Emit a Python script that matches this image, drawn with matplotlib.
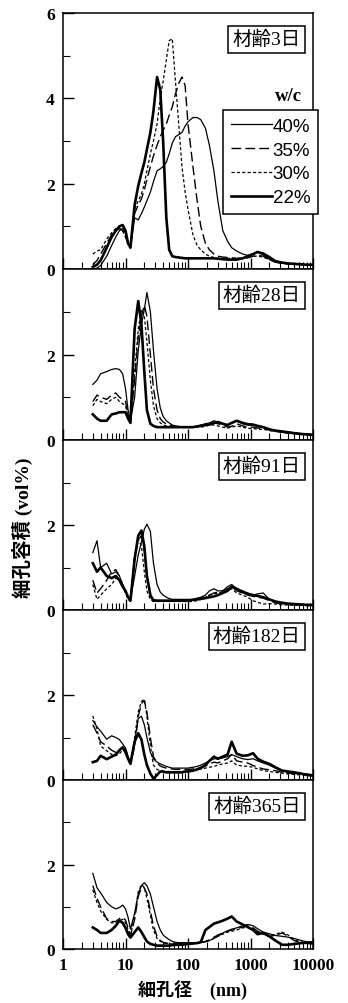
import numpy as np
import matplotlib
matplotlib.use('Agg')
import matplotlib.pyplot as plt
from matplotlib.ticker import LogLocator, FixedLocator, NullFormatter

plt.rcParams['font.family'] = ['Liberation Serif', 'Noto Sans CJK JP']

# pore diameter (nm) shared by every curve
diam = [3, 3.5, 4, 5, 6, 7, 8, 9, 10, 11,
        12, 14, 16, 18, 20, 22, 25, 28, 32, 36,
        40, 45, 50, 56, 63, 71, 80, 90, 100, 120,
        140, 160, 190, 220, 260, 300, 360, 430, 500, 600,
        750, 900, 1100, 1300, 1600, 2000, 2500, 3200, 4000, 5000,
        6500, 8000, 10000]

ages = ['材齢3日', '材齢28日', '材齢91日', '材齢182日', '材齢365日']
wc_labels = ['40%', '35%', '30%', '22%']
x_ticks = [1, 10, 100, 1000, 10000]
x_ticklabels = ['1', '10', '100', '1000', '10000']

# pore volume (vol%), age 3 days
vol_3d_40 = [0.0, 0.02, 0.08, 0.3, 0.55, 0.75, 0.9, 0.95, 0.85, 0.6,
             0.5, 1.2, 1.15, 1.3, 1.45, 1.6, 1.8, 2.05, 2.3, 2.35,
             2.4, 2.5, 2.7, 2.95, 3.1, 3.15, 3.2, 3.35, 3.45, 3.55,
             3.55, 3.5, 3.3, 2.9, 2.3, 1.6, 0.9, 0.65, 0.5, 0.42,
             0.35, 0.32, 0.35, 0.4, 0.38, 0.3, 0.2, 0.15, 0.13, 0.12,
             0.11, 0.1, 0.1]
vol_3d_35 = [0.1, 0.2, 0.35, 0.6, 0.8, 0.9, 0.95, 0.9, 0.75, 0.6,
             0.55, 1.3, 1.5, 1.65, 1.85, 2.1, 2.4, 2.65, 2.9, 3.1,
             3.25, 3.4, 3.6, 3.8, 4.1, 4.35, 4.5, 4.3, 3.4, 2.4,
             1.6, 1.0, 0.6, 0.45, 0.35, 0.3, 0.28, 0.27, 0.26, 0.25,
             0.25, 0.26, 0.3, 0.32, 0.3, 0.22, 0.16, 0.13, 0.12, 0.11,
             0.1, 0.1, 0.1]
vol_3d_30 = [0.35, 0.42, 0.45, 0.7, 0.85, 0.95, 0.95, 0.9, 0.75, 0.6,
             0.55, 1.4, 1.6, 1.75, 2.0, 2.3, 2.7, 3.0, 3.4, 4.0,
             4.4, 4.9, 5.35, 5.4, 4.4, 3.4, 2.4, 1.8, 1.4, 0.8,
             0.55, 0.45, 0.35, 0.3, 0.27, 0.25, 0.25, 0.25, 0.25, 0.25,
             0.26, 0.28, 0.3, 0.3, 0.28, 0.22, 0.16, 0.13, 0.12, 0.11,
             0.1, 0.1, 0.1]
vol_3d_22 = [0.05, 0.1, 0.2, 0.5, 0.75, 0.9, 1.0, 1.03, 0.9, 0.6,
             0.5, 1.5, 1.95, 2.25, 2.5, 2.8, 3.2, 3.7, 4.5, 4.2,
             3.0, 1.2, 0.45, 0.3, 0.28, 0.27, 0.26, 0.25, 0.25, 0.25,
             0.25, 0.25, 0.25, 0.25, 0.25, 0.24, 0.23, 0.22, 0.22, 0.22,
             0.25, 0.3, 0.35, 0.4, 0.35, 0.25, 0.18, 0.15, 0.13, 0.12,
             0.11, 0.1, 0.1]

# age 28 days
vol_28d_40 = [1.3, 1.4, 1.55, 1.6, 1.65, 1.67, 1.65, 1.55, 1.2, 0.7,
              0.45, 1.0, 2.1, 2.7, 3.05, 3.45, 3.0, 2.1, 1.2, 0.75,
              0.55, 0.45, 0.4, 0.35, 0.33, 0.32, 0.3, 0.3, 0.3, 0.3,
              0.32, 0.35, 0.38, 0.4, 0.45, 0.42, 0.38, 0.35, 0.4, 0.45,
              0.38, 0.35, 0.35, 0.32, 0.3, 0.25, 0.22, 0.2, 0.18, 0.17,
              0.15, 0.15, 0.12]
vol_28d_35 = [0.9, 1.05, 1.0, 0.95, 1.05, 1.1, 1.0, 0.95, 0.9, 0.6,
              0.45, 1.4, 2.4, 2.9, 3.15, 2.9, 2.0, 1.2, 0.7, 0.5,
              0.42, 0.38, 0.35, 0.33, 0.32, 0.3, 0.3, 0.3, 0.3, 0.3,
              0.32, 0.34, 0.36, 0.38, 0.4, 0.38, 0.35, 0.3, 0.32, 0.38,
              0.33, 0.3, 0.3, 0.28, 0.27, 0.24, 0.2, 0.18, 0.16, 0.15,
              0.14, 0.13, 0.12]
vol_28d_30 = [0.8, 0.95, 0.9, 0.85, 0.95, 1.0, 0.9, 0.85, 0.8, 0.55,
              0.45, 1.6, 2.6, 3.05, 2.9, 2.3, 1.4, 0.8, 0.5, 0.4,
              0.35, 0.33, 0.32, 0.3, 0.3, 0.3, 0.3, 0.3, 0.3, 0.3,
              0.3, 0.3, 0.32, 0.35, 0.35, 0.33, 0.3, 0.28, 0.3, 0.33,
              0.3, 0.27, 0.27, 0.25, 0.25, 0.22, 0.2, 0.18, 0.16, 0.15,
              0.14, 0.13, 0.12]
vol_28d_22 = [0.6, 0.5, 0.45, 0.45, 0.6, 0.62, 0.65, 0.65, 0.65, 0.5,
              0.4, 2.6, 3.25, 2.7, 1.6, 0.7, 0.38, 0.33, 0.3, 0.3,
              0.3, 0.3, 0.3, 0.3, 0.3, 0.3, 0.3, 0.3, 0.3, 0.3,
              0.32, 0.33, 0.35, 0.36, 0.4, 0.42, 0.38, 0.35, 0.4, 0.45,
              0.4, 0.37, 0.36, 0.33, 0.3, 0.25, 0.22, 0.2, 0.18, 0.16,
              0.14, 0.13, 0.12]

# age 91 days
vol_91d_40 = [1.35, 1.63, 1.0, 1.1, 0.85, 0.9, 0.8, 0.6, 0.45, 0.3,
              0.25, 0.8, 1.3, 1.6, 1.9, 2.02, 1.85, 1.1, 0.6, 0.42,
              0.35, 0.3, 0.27, 0.25, 0.25, 0.25, 0.25, 0.25, 0.25, 0.25,
              0.28, 0.3, 0.35, 0.45, 0.5, 0.45, 0.45, 0.55, 0.6, 0.5,
              0.45, 0.4, 0.35, 0.38, 0.4, 0.25, 0.18, 0.15, 0.14, 0.13,
              0.12, 0.12, 0.12]
vol_91d_35 = [0.7, 0.4, 0.5, 0.7, 0.9, 0.95, 0.8, 0.6, 0.45, 0.3,
              0.25, 1.2, 1.65, 1.75, 1.4, 0.8, 0.35, 0.25, 0.22, 0.22,
              0.22, 0.22, 0.22, 0.22, 0.22, 0.22, 0.22, 0.22, 0.22, 0.22,
              0.25, 0.28, 0.32, 0.35, 0.4, 0.42, 0.45, 0.5, 0.55, 0.45,
              0.4, 0.35, 0.32, 0.3, 0.28, 0.22, 0.17, 0.14, 0.13, 0.12,
              0.12, 0.11, 0.11]
vol_91d_30 = [0.6, 0.25, 0.35, 0.5, 0.6, 0.75, 0.7, 0.55, 0.4, 0.25,
              0.2, 1.3, 1.67, 1.5, 0.9, 0.45, 0.25, 0.2, 0.2, 0.2,
              0.2, 0.2, 0.2, 0.2, 0.2, 0.2, 0.2, 0.2, 0.2, 0.2,
              0.22, 0.25, 0.3, 0.35, 0.38, 0.4, 0.42, 0.45, 0.5, 0.4,
              0.35, 0.3, 0.22, 0.18, 0.14, 0.15, 0.14, 0.12, 0.12, 0.11,
              0.11, 0.1, 0.1]
vol_91d_22 = [1.1, 0.9, 1.0, 0.8, 0.75, 0.8, 0.7, 0.55, 0.45, 0.3,
              0.22, 1.2, 1.75, 1.87, 1.5, 0.8, 0.35, 0.22, 0.22, 0.22,
              0.22, 0.22, 0.22, 0.22, 0.22, 0.22, 0.22, 0.22, 0.22, 0.24,
              0.25, 0.26, 0.28, 0.3, 0.32, 0.35, 0.4, 0.45, 0.55, 0.5,
              0.42, 0.38, 0.35, 0.33, 0.3, 0.25, 0.2, 0.17, 0.15, 0.14,
              0.13, 0.12, 0.12]

# age 182 days
vol_182d_40 = [1.4, 1.25, 1.15, 0.96, 1.04, 1.0, 0.95, 0.85, 0.75, 0.55,
               0.38, 0.9, 1.45, 1.5, 1.3, 1.0, 0.65, 0.5, 0.42, 0.38,
               0.35, 0.32, 0.3, 0.28, 0.28, 0.28, 0.28, 0.28, 0.28, 0.3,
               0.32, 0.35, 0.4, 0.45, 0.5, 0.5, 0.52, 0.55, 0.6, 0.55,
               0.5, 0.48, 0.5, 0.45, 0.4, 0.35, 0.28, 0.22, 0.18, 0.16,
               0.15, 0.14, 0.12]
vol_182d_35 = [1.3, 1.1, 0.9, 0.8, 0.7, 0.65, 0.7, 0.75, 0.7, 0.5,
               0.38, 0.8, 1.5, 1.8, 1.87, 1.6, 1.0, 0.55, 0.4, 0.33,
               0.3, 0.28, 0.27, 0.26, 0.25, 0.25, 0.25, 0.25, 0.25, 0.26,
               0.28, 0.3, 0.33, 0.38, 0.42, 0.4, 0.45, 0.5, 0.6, 0.45,
               0.42, 0.4, 0.34, 0.3, 0.26, 0.24, 0.22, 0.18, 0.16, 0.15,
               0.14, 0.13, 0.12]
vol_182d_30 = [1.51, 1.2, 0.8, 0.69, 0.6, 0.57, 0.62, 0.7, 0.75, 0.55,
               0.4, 1.0, 1.6, 1.85, 1.9, 1.5, 0.8, 0.35, 0.25, 0.22,
               0.2, 0.2, 0.2, 0.2, 0.2, 0.2, 0.2, 0.2, 0.2, 0.22,
               0.24, 0.26, 0.28, 0.3, 0.32, 0.35, 0.38, 0.4, 0.45, 0.35,
               0.33, 0.32, 0.3, 0.26, 0.22, 0.2, 0.18, 0.16, 0.14, 0.13,
               0.12, 0.12, 0.11]
vol_182d_22 = [0.42, 0.45, 0.57, 0.49, 0.55, 0.6, 0.7, 0.77, 0.65, 0.5,
               0.38, 0.9, 1.1, 0.95, 0.6, 0.35, 0.15, 0.03, 0.12, 0.2,
               0.2, 0.18, 0.18, 0.18, 0.18, 0.18, 0.18, 0.2, 0.2, 0.22,
               0.25, 0.28, 0.35, 0.45, 0.55, 0.5, 0.55, 0.6, 0.9, 0.62,
               0.57, 0.58, 0.63, 0.5, 0.43, 0.38, 0.3, 0.22, 0.2, 0.18,
               0.15, 0.12, 0.1]

# age 365 days
vol_365d_40 = [1.79, 1.45, 1.33, 1.1, 1.0, 0.95, 0.98, 1.04, 0.95, 0.75,
               0.47, 0.85, 1.3, 1.5, 1.57, 1.5, 1.3, 1.0, 0.65, 0.45,
               0.33, 0.27, 0.22, 0.18, 0.16, 0.15, 0.15, 0.15, 0.15, 0.15,
               0.15, 0.16, 0.17, 0.2, 0.25, 0.3, 0.38, 0.43, 0.47, 0.5,
               0.55, 0.58, 0.55, 0.48, 0.4, 0.36, 0.32, 0.3, 0.28, 0.25,
               0.2, 0.17, 0.15]
vol_365d_35 = [1.5, 1.2, 1.0, 0.72, 0.65, 0.65, 0.72, 0.75, 0.68, 0.5,
               0.32, 0.7, 1.25, 1.45, 1.45, 1.3, 0.9, 0.55, 0.3, 0.2,
               0.16, 0.14, 0.13, 0.13, 0.13, 0.13, 0.13, 0.13, 0.13, 0.14,
               0.15, 0.16, 0.18, 0.22, 0.28, 0.33, 0.38, 0.42, 0.45, 0.48,
               0.52, 0.55, 0.5, 0.42, 0.36, 0.3, 0.32, 0.38, 0.3, 0.2,
               0.15, 0.13, 0.12]
vol_365d_30 = [1.4, 1.1, 0.9, 0.7, 0.62, 0.62, 0.68, 0.7, 0.62, 0.45,
               0.3, 0.8, 1.35, 1.53, 1.45, 1.2, 0.8, 0.45, 0.25, 0.18,
               0.15, 0.13, 0.12, 0.12, 0.12, 0.12, 0.12, 0.12, 0.12, 0.13,
               0.14, 0.15, 0.17, 0.2, 0.25, 0.3, 0.35, 0.4, 0.42, 0.45,
               0.5, 0.52, 0.48, 0.4, 0.35, 0.3, 0.35, 0.4, 0.33, 0.22,
               0.16, 0.14, 0.12]
vol_365d_22 = [0.51, 0.45, 0.38, 0.38, 0.45, 0.55, 0.67, 0.62, 0.5, 0.35,
               0.27, 0.4, 0.51, 0.4, 0.28, 0.18, 0.12, 0.1, 0.08, 0.08,
               0.08, 0.08, 0.08, 0.09, 0.1, 0.1, 0.1, 0.11, 0.12, 0.13,
               0.14, 0.16, 0.45, 0.52, 0.6, 0.63, 0.67, 0.72, 0.77, 0.65,
               0.58, 0.52, 0.45, 0.35, 0.38, 0.3, 0.2, 0.1, 0.1, 0.12,
               0.14, 0.15, 0.16]

panels = [
    [vol_3d_40, vol_3d_35, vol_3d_30, vol_3d_22],
    [vol_28d_40, vol_28d_35, vol_28d_30, vol_28d_22],
    [vol_91d_40, vol_91d_35, vol_91d_30, vol_91d_22],
    [vol_182d_40, vol_182d_35, vol_182d_30, vol_182d_22],
    [vol_365d_40, vol_365d_35, vol_365d_30, vol_365d_22],
]

line_styles = [
    dict(lw=0.9, ls='-'),
    dict(lw=1.0, ls=(0, (7, 3))),
    dict(lw=0.9, ls=(0, (2.5, 1.8))),
    dict(lw=1.9, ls='-'),
]

W, H = 348, 1004
fig = plt.figure(figsize=(W / 100, H / 100), dpi=100)

# panel edges in pixels from the top of the figure
edges = [14, 270, 441, 611, 781, 950]
ax_left, ax_w = 63, 250

axes = []
for i, series in enumerate(panels):
    top, bot = edges[i], edges[i + 1]
    ax = fig.add_axes([ax_left / W, 1 - bot / H, ax_w / W, (bot - top) / H])
    axes.append(ax)
    for vals, st in zip(series, line_styles):
        ax.plot(diam, vals, color='black', **st)

    ax.set_xscale('log')
    ax.set_xlim(1, 10000)
    ax.xaxis.set_major_locator(FixedLocator(x_ticks))
    ax.xaxis.set_minor_locator(LogLocator(base=10, subs=np.arange(2, 10), numticks=10))
    ax.xaxis.set_minor_formatter(NullFormatter())
    if i == len(panels) - 1:
        ax.set_xticklabels(x_ticklabels)
    else:
        ax.tick_params(labelbottom=False)

    if i == 0:
        ax.set_ylim(0, 6)
        ax.set_yticks([0, 2, 4, 6])
        ax.set_yticks([1, 3, 5], minor=True)
    else:
        ax.set_ylim(0, 4)
        ax.set_yticks([0, 2])
        ax.set_yticks([1, 3], minor=True)

    ax.tick_params(which='major', direction='in', length=8, width=1.0,
                   top=False, right=False, labelsize=12.5, pad=6)
    ax.tick_params(which='minor', direction='in', length=5, width=0.8,
                   top=False, right=False)
    for lbl in ax.get_xticklabels() + ax.get_yticklabels():
        lbl.set_fontweight('bold')
    for sp in ax.spines.values():
        sp.set_linewidth(1.1)

    # age label in a boxed tag at the upper right
    ax.annotate(ages[i], xy=(1, 1), xycoords='axes fraction',
                xytext=(-12, -17), textcoords='offset pixels',
                ha='right', va='top', fontsize=14,
                bbox=dict(boxstyle='square,pad=0.22', fc='white', ec='black', lw=1.1))

top_ax = axes[0]
leg = top_ax.legend(top_ax.get_lines(), wc_labels, loc='upper left',
                    bbox_to_anchor=(0.64, 0.621), borderaxespad=0,
                    handlelength=2.2, handletextpad=0.05,
                    labelspacing=0.36, borderpad=0.4, fancybox=False,
                    framealpha=1, edgecolor='black',
                    prop=dict(family='Liberation Sans', size=13.5))
leg.get_frame().set_linewidth(1.1)
top_ax.text(0.956, 0.676, 'w/c', transform=top_ax.transAxes, ha='right',
            va='center', fontsize=13.5, fontweight='bold')

fig.text(22 / W, 1 - 528 / H, '細孔容積 (vol%)', rotation=90, ha='center',
         va='center', fontsize=14, fontweight='bold')
fig.text(192 / W, 1 - 990 / H, '細孔径\u3000(nm)', ha='center', va='center',
         fontsize=13, fontweight='bold')

fig.savefig('out.png', dpi=100)
